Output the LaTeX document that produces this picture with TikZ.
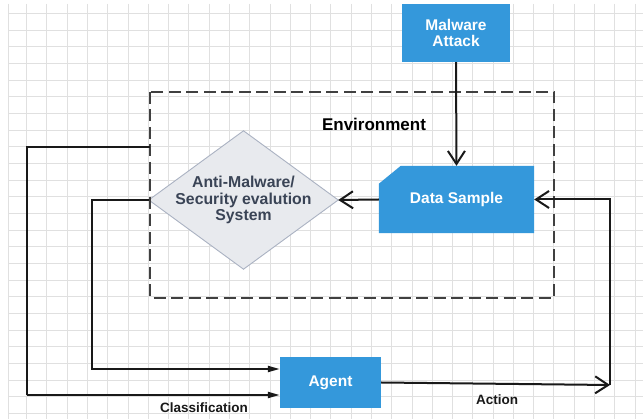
\documentclass[tikz,border=0pt]{standalone}
\usepackage{fontspec}
\setmainfont{Liberation Sans}
\usetikzlibrary{arrows.meta,backgrounds}
\definecolor{boxblue}{RGB}{52,152,219}
\definecolor{gridgray}{RGB}{224,224,224}
\definecolor{diafill}{RGB}{232,234,238}
\definecolor{diaedge}{RGB}{170,178,194}
\definecolor{diatext}{RGB}{58,68,86}
\definecolor{envgray}{RGB}{64,64,64}
\definecolor{linecol}{RGB}{25,25,25}
\tikzset{
  gridline/.style={gridgray, line width=0.8pt},
  bluebox/.style={rectangle, fill=boxblue, text=white, align=center, inner sep=0pt,
    font=\bfseries\fontsize{15.5}{16.5}\selectfont},
  ghostbox/.style={rectangle, text=white, align=center, inner sep=0pt,
    font=\bfseries\fontsize{15.5}{16.5}\selectfont},
  diabox/.style={rectangle, text=diatext, align=center, inner sep=0pt,
    font=\bfseries\fontsize{15.8}{16.5}\selectfont},
  envbox/.style={envgray, line width=2pt, dash pattern=on 12pt off 5.5pt},
  conn/.style={linecol, line width=2pt},
  openarrow/.style={conn, -{Straight Barb[length=13pt,width=17pt,line width=2pt]}},
  fillarrow/.style={conn, -{Triangle[length=12pt,width=6pt]}},
  lbl/.style={text=linecol, font=\bfseries\fontsize{13.5}{15}\selectfont, inner sep=0pt},
}
\begin{document}
\begin{tikzpicture}[x=1pt,y=-1pt]
\useasboundingbox (0,0) rectangle (643,419);
\begin{scope}[on background layer]
  \fill[white] (0,0) rectangle (643,419);
  \draw[gridline] (8,4) -- (8,419);
  \foreach \k in {0,...,30} {
    \draw[gridline] ({26.6+20.28*\k},4) -- ({26.6+20.28*\k},419);
  }
  \foreach \k in {0,...,24} {
    \draw[gridline] (8,{13.3+16.67*\k}) -- (643,{13.3+16.67*\k});
  }
\end{scope}

% environment frame
\draw[envbox] (149.5,92) rectangle (554,298);
\node[text=black, font=\bfseries\fontsize{17}{19}\selectfont, inner sep=0pt] (env) at (374,124) {Environment};

% nodes
\node[bluebox, minimum width=108pt, minimum height=58pt] (mal) at (456,33) {Malware\\Attack};
\node[ghostbox, minimum width=155pt, minimum height=67pt] (ds) at (456.5,199.5) {Data Sample};
\node[diabox, minimum width=189pt, minimum height=138pt] (ams) at (243.5,200) {Anti-Malware/\\Security evalution\\System};
\node[bluebox, minimum width=101pt, minimum height=51pt] (agent) at (330.5,382.5) {Agent};

\begin{scope}[on background layer]
  \fill[boxblue] (ds.south west) -- (ds.south east) -- (ds.north east)
    -- ([xshift=22pt]ds.north west) -- ([yshift=-18pt]ds.north west) -- cycle;
  \filldraw[fill=diafill, draw=diaedge, line width=0.9pt]
    (ams.north) -- (ams.east) -- (ams.south) -- (ams.west) -- cycle;
\end{scope}

% connectors
\coordinate (envtap) at (149.5,147);
\coordinate (outc) at (27,395);
\coordinate (actc) at (610,385);

\draw[openarrow] (mal.south) -- (ds.north);
\draw[openarrow] (ds.west) -- (ams.east);
\draw[fillarrow] (ams.west) -- ++(-57,0) |- ([yshift=13.5pt]agent.west);
\draw[conn] (envtap) -| (outc);
\draw[fillarrow] (outc) -- ([yshift=-12.5pt]agent.west);
\draw[openarrow] (agent.east) -- (actc);
\draw[openarrow] (actc) |- (ds.east);

% labels
\node[lbl] (cls) at (204,408) {Classification};
\node[lbl] (act) at (497,400) {Action};
\end{tikzpicture}
\end{document}
